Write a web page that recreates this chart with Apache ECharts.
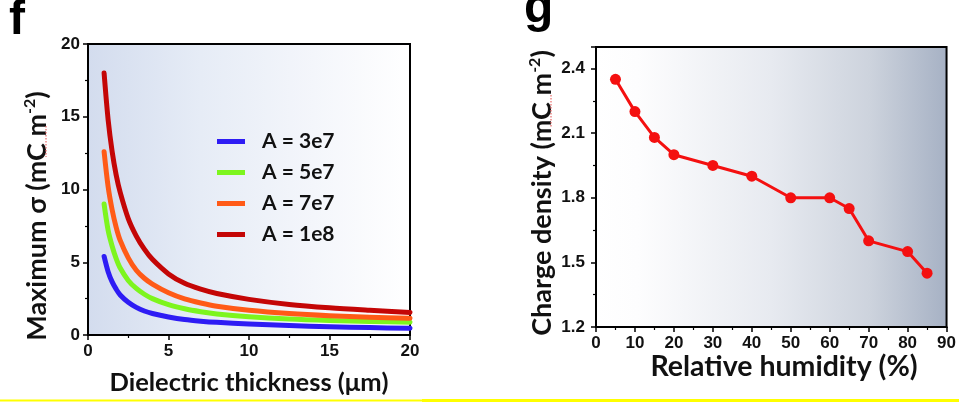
<!DOCTYPE html>
<html>
<head>
<meta charset="utf-8">
<script src="https://cdn.jsdelivr.net/npm/echarts@6/dist/echarts.min.js"></script>
<style>
  html, body { margin: 0; padding: 0; background: #fff; }
  #chart { width: 959px; height: 402px; }
</style>
</head>
<body>
<div id="chart"></div>
<script>
// Panel f: maximum surface charge vs dielectric thickness for several A values
const thickness = [1, 1.25, 1.5, 1.75, 2, 2.5, 3, 3.5, 4, 5, 6, 7, 8, 10, 12.5, 15, 17.5, 20];
const sigmaA3e7 = [5.4, 4.35, 3.65, 3.15, 2.75, 2.25, 1.9, 1.65, 1.48, 1.24, 1.06, 0.95, 0.87, 0.76, 0.65, 0.57, 0.51, 0.46];
const sigmaA5e7 = [9.0, 7.2, 6.1, 5.25, 4.6, 3.75, 3.2, 2.8, 2.5, 2.08, 1.8, 1.6, 1.45, 1.26, 1.1, 1.0, 0.93, 0.88];
const sigmaA7e7 = [12.6, 10.2, 8.6, 7.4, 6.5, 5.3, 4.45, 3.9, 3.5, 2.9, 2.48, 2.2, 1.98, 1.7, 1.47, 1.32, 1.22, 1.15];
const sigmaA1e8 = [18.0, 14.8, 12.6, 11.0, 9.8, 8.0, 6.8, 5.9, 5.2, 4.2, 3.55, 3.15, 2.85, 2.45, 2.1, 1.87, 1.7, 1.55];
const seriesNames = ['A = 3e7', 'A = 5e7', 'A = 7e7', 'A = 1e8'];
const xTicksF = [0, 5, 10, 15, 20];
const yTicksF = [0, 5, 10, 15, 20];

// Panel g: charge density vs relative humidity
const humidity = [5, 10, 15, 20, 30, 40, 50, 60, 65, 70, 80, 85];
const chargeDensity = [2.35, 2.2, 2.08, 2.0, 1.95, 1.9, 1.8, 1.8, 1.75, 1.6, 1.55, 1.45];
const xTicksG = [0, 10, 20, 30, 40, 50, 60, 70, 80, 90];
const yTicksG = [1.2, 1.5, 1.8, 2.1, 2.4];

const lineColors = ['#2e1cf4', '#7df51e', '#ff5a17', '#c40606'];
const curves = [sigmaA3e7, sigmaA5e7, sigmaA7e7, sigmaA1e8];

const tickFont = { fontFamily: 'Liberation Sans', fontWeight: 'bold', fontSize: 17, color: '#111' };
const titleFont = 'Lato';

function pairs(xs, ys) { return xs.map((x, i) => [x, ys[i]]); }

function axisCommon(extra) {
  return Object.assign({
    axisLine: { show: true, onZero: false, lineStyle: { color: '#000', width: 2 } },
    axisTick: { show: true, inside: false, length: 5, lineStyle: { color: '#000', width: 1.5 } },
    minorTick: { show: true, splitNumber: 2, length: 3, lineStyle: { color: '#000', width: 1.2 } },
    splitLine: { show: false },
    minorSplitLine: { show: false }
  }, extra);
}

// vertical axis title with a superscript exponent
function supTitle(main, x, y, size) {
  return {
    type: 'text', x: x, y: y, rotation: Math.PI / 2, z: 10,
    style: {
      text: '{a|' + main + ' (mC m}{s|-2}{a|)}',
      align: 'center', verticalAlign: 'middle',
      rich: {
        a: { fontFamily: titleFont, fontWeight: 'bold', fontSize: size, fill: '#111', lineHeight: size + 4 },
        s: { fontFamily: titleFont, fontWeight: 'bold', fontSize: Math.round(size * 0.6), fill: '#111', verticalAlign: 'top', lineHeight: size + 4 }
      }
    }
  };
}

// thin red dotted underline beneath "mC"
function squiggle(x, y1, y2) {
  return {
    type: 'line', z: 11,
    shape: { x1: x, y1: y1, x2: x, y2: y2 },
    style: { stroke: '#e86a6a', lineWidth: 1.2, lineDash: [1.5, 1.5] }
  };
}

const chart = echarts.init(document.getElementById('chart'), null, { renderer: 'canvas' });

const option = {
  animation: false,
  backgroundColor: '#fff',
  grid: [
    {
      left: 88, top: 44, width: 322, height: 291,
      show: true, borderColor: '#000', borderWidth: 2,
      backgroundColor: {
        type: 'linear', x: 0, y: 0, x2: 1, y2: 0,
        colorStops: [
          { offset: 0, color: '#d3dcee' },
          { offset: 0.35, color: '#e6ecf6' },
          { offset: 0.7, color: '#f4f6fb' },
          { offset: 1, color: '#ffffff' }
        ]
      }
    },
    {
      left: 596, top: 47, width: 354, height: 280,
      show: true, borderColor: '#000', borderWidth: 2,
      backgroundColor: {
        type: 'linear', x: 0, y: 0, x2: 1, y2: 0,
        colorStops: [
          { offset: 0, color: '#ffffff' },
          { offset: 0.12, color: '#fdfdfe' },
          { offset: 0.5, color: '#e7eaf0' },
          { offset: 0.78, color: '#cdd3dd' },
          { offset: 1, color: '#a6b1c4' }
        ]
      }
    }
  ],
  xAxis: [
    axisCommon({
      type: 'value', gridIndex: 0, min: xTicksF[0], max: xTicksF[xTicksF.length - 1], interval: 5,
      axisLabel: Object.assign({ margin: 8 }, tickFont)
    }),
    axisCommon({
      type: 'value', gridIndex: 1, min: xTicksG[0], max: xTicksG[xTicksG.length - 1], interval: 10,
      axisLabel: Object.assign({ margin: 8 }, tickFont)
    })
  ],
  yAxis: [
    axisCommon({
      type: 'value', gridIndex: 0, min: yTicksF[0], max: yTicksF[yTicksF.length - 1], interval: 5,
      axisLabel: Object.assign({ margin: 8 }, tickFont)
    }),
    axisCommon({
      type: 'value', gridIndex: 1, min: yTicksG[0], max: 2.5, interval: 0.3,
      axisLabel: Object.assign({
        margin: 11, showMaxLabel: false,
        formatter: v => (yTicksG.some(t => Math.abs(t - v) < 1e-6) ? v.toFixed(1) : '')
      }, tickFont)
    })
  ],
  legend: {
    data: seriesNames,
    orient: 'vertical',
    left: 212, top: 126,
    icon: 'rect',
    itemWidth: 28, itemHeight: 5, itemGap: 10,
    textStyle: { fontFamily: titleFont, fontWeight: 'bold', fontSize: 21, color: '#111', padding: [0, 0, 0, 12] }
  },
  series: curves.map((c, i) => ({
    name: seriesNames[i],
    type: 'line',
    xAxisIndex: 0, yAxisIndex: 0,
    data: pairs(thickness, c),
    smooth: 0.3,
    showSymbol: false,
    color: lineColors[i],
    lineStyle: { width: 5, color: lineColors[i], cap: 'round', join: 'round' },
    z: 3 + i
  })).concat([{
    name: 'Charge density',
    type: 'line',
    xAxisIndex: 1, yAxisIndex: 1,
    data: pairs(humidity, chargeDensity),
    symbol: 'circle', symbolSize: 11,
    color: '#f41010',
    itemStyle: { color: '#f41010' },
    lineStyle: { width: 3, color: '#f41010' },
    z: 5
  }]),
  graphic: [
    { type: 'text', x: 9, y: 21, z: 10,
      style: { text: 'f', fontFamily: 'Liberation Sans', fontWeight: 'bold', fontSize: 48, fill: '#000', align: 'left', verticalAlign: 'middle' } },
    { type: 'text', x: 524, y: 9, z: 10,
      style: { text: 'g', fontFamily: 'Liberation Sans', fontWeight: 'bold', fontSize: 48, fill: '#000', align: 'left', verticalAlign: 'middle' } },
    supTitle('Maximum σ', 37, 216, 27),
    supTitle('Charge density', 542, 193, 27),
    squiggle(46, 126, 157),
    squiggle(551, 95, 127),
    { type: 'text', x: 249, y: 383, z: 10,
      style: { text: 'Dielectric thickness (μm)', fontFamily: titleFont, fontWeight: 'bold', fontSize: 25.5, fill: '#111', align: 'center', verticalAlign: 'middle' } },
    { type: 'text', x: 784, y: 367, z: 10,
      style: { text: 'Relative humidity (%)', fontFamily: titleFont, fontWeight: 'bold', fontSize: 28.5, fill: '#111', align: 'center', verticalAlign: 'middle' } },
    { type: 'rect', z: 10, shape: { x: 0, y: 399.5, width: 422, height: 2 }, style: { fill: '#ffff00' } },
    { type: 'rect', z: 10, shape: { x: 422, y: 399, width: 537, height: 3 }, style: { fill: '#ffff00' } }
  ]
};

chart.setOption(option);
</script>
</body>
</html>
